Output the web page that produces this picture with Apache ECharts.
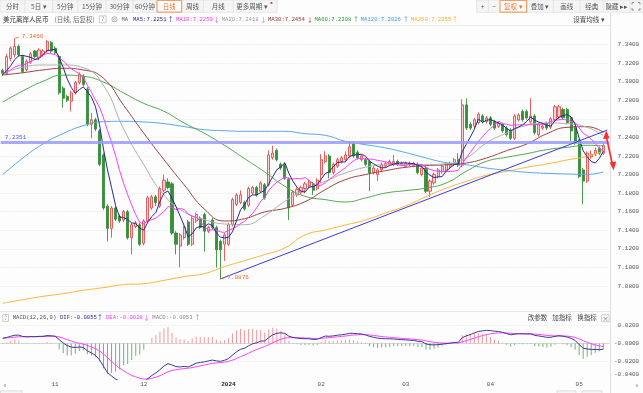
<!DOCTYPE html>
<html>
<head>
<meta charset="utf-8">
<title>美元离岸人民币 日线</title>
<script src="https://cdn.jsdelivr.net/npm/echarts@6/dist/echarts.min.js"></script>
<style>
html,body{margin:0;padding:0;background:#ffffff;overflow:hidden;}
#chart{width:643px;height:393px;}
</style>
</head>
<body>
<div id="chart"></div>
<script>
// ---------- categories: trading days ----------
const oct23 = [13,16,17,18,19,20,23,24,25,26,27,30,31];
const nov23 = [1,2,3,6,7,8,9,10,13,14,15,16,17,20,21,22,23,24,27,28,29,30];
const dec23 = [1,4,5,6,7,8,11,12,13,14,15,18,19,20,21,22,25,26,27,28,29];
const jan24 = [1,2,3,4,5,8,9,10,11,12,15,16,17,18,19,22,23,24,25,26,29,30,31];
const feb24 = [1,2,5,6,7,8,9,12,13,14,15,16,19,20,21,22,23,26,27,28,29];
const mar24 = [1,4,5,6,7,8,11,12,13,14,15,18,19,20,21,22,25,26,27,28,29];
const apr24 = [1,2,3,4,5,8,9,10,11,12,15,16,17,18,19,22,23,24,25,26,29,30];
const may24 = [1,2,3,6,7,8,9,10];

// ---------- daily candles [open, close, low, high] ----------
const ohlc = [
[7.312,7.309,7.306,7.314],[7.309,7.327,7.307,7.330],[7.325,7.336,7.322,7.338],[7.329,7.338,7.326,7.3466],
[7.338,7.329,7.327,7.340],[7.327,7.311,7.309,7.329],[7.313,7.322,7.311,7.324],[7.321,7.330,7.319,7.332],
[7.333,7.327,7.325,7.334],[7.326,7.334,7.323,7.336],[7.329,7.333,7.327,7.335],[7.333,7.343,7.331,7.345],
[7.342,7.333,7.331,7.344],[7.336,7.331,7.329,7.338],[7.327,7.288,7.286,7.329],[7.293,7.282,7.272,7.295],
[7.284,7.280,7.278,7.286],[7.279,7.288,7.268,7.290],[7.288,7.299,7.286,7.301],[7.299,7.308,7.297,7.310],
[7.306,7.297,7.295,7.308],[7.292,7.254,7.252,7.294],[7.254,7.259,7.239,7.266],[7.259,7.249,7.247,7.261],
[7.247,7.211,7.209,7.249],[7.221,7.164,7.162,7.223],[7.166,7.142,7.128,7.168],[7.142,7.164,7.132,7.166],
[7.164,7.152,7.150,7.166],[7.155,7.150,7.148,7.157],[7.151,7.160,7.149,7.162],[7.160,7.132,7.130,7.162],
[7.132,7.146,7.114,7.148],[7.144,7.148,7.142,7.150],[7.146,7.125,7.123,7.148],[7.126,7.150,7.124,7.152],
[7.150,7.175,7.148,7.177],[7.164,7.176,7.162,7.178],[7.176,7.170,7.166,7.178],[7.166,7.185,7.164,7.187],
[7.183,7.194,7.181,7.200],[7.192,7.186,7.184,7.196],[7.190,7.137,7.135,7.192],[7.137,7.125,7.114,7.139],
[7.123,7.135,7.100,7.137],[7.132,7.143,7.130,7.145],[7.149,7.125,7.123,7.151],[7.125,7.153,7.123,7.155],
[7.150,7.157,7.148,7.159],[7.153,7.143,7.141,7.155],[7.157,7.139,7.117,7.159],[7.139,7.143,7.137,7.145],
[7.151,7.143,7.141,7.153],[7.143,7.119,7.100,7.145],[7.128,7.119,7.0876,7.130],[7.125,7.135,7.107,7.137],
[7.125,7.146,7.123,7.148],[7.146,7.173,7.144,7.175],[7.168,7.178,7.166,7.180],[7.170,7.178,7.168,7.183],
[7.170,7.163,7.161,7.172],[7.167,7.185,7.165,7.187],[7.180,7.186,7.178,7.188],[7.186,7.178,7.176,7.188],
[7.182,7.191,7.180,7.193],[7.189,7.175,7.173,7.191],[7.189,7.221,7.187,7.226],[7.218,7.223,7.216,7.231],
[7.226,7.216,7.214,7.228],[7.211,7.207,7.205,7.213],[7.211,7.196,7.194,7.213],[7.195,7.164,7.151,7.197],
[7.167,7.181,7.165,7.183],[7.178,7.184,7.176,7.186],[7.181,7.186,7.179,7.188],[7.185,7.190,7.180,7.192],
[7.188,7.192,7.186,7.194],[7.190,7.183,7.178,7.192],[7.185,7.194,7.183,7.196],[7.200,7.216,7.191,7.222],
[7.214,7.220,7.212,7.225],[7.220,7.202,7.196,7.222],[7.202,7.211,7.200,7.213],[7.209,7.216,7.207,7.218],
[7.214,7.218,7.212,7.220],[7.216,7.221,7.214,7.225],[7.220,7.230,7.218,7.236],[7.234,7.220,7.218,7.236],
[7.224,7.218,7.216,7.226],[7.216,7.220,7.214,7.222],[7.216,7.211,7.209,7.218],[7.214,7.202,7.182,7.216],
[7.202,7.207,7.200,7.209],[7.200,7.205,7.193,7.207],[7.205,7.211,7.203,7.213],[7.209,7.212,7.207,7.214],
[7.211,7.214,7.209,7.216],[7.211,7.214,7.209,7.221],[7.214,7.211,7.209,7.216],[7.211,7.212,7.209,7.214],
[7.209,7.212,7.207,7.214],[7.212,7.211,7.209,7.214],[7.210,7.212,7.208,7.214],[7.211,7.202,7.200,7.213],
[7.200,7.207,7.198,7.209],[7.207,7.182,7.180,7.209],[7.182,7.193,7.176,7.195],[7.191,7.200,7.189,7.202],
[7.198,7.205,7.196,7.207],[7.203,7.209,7.201,7.211],[7.205,7.211,7.203,7.213],[7.209,7.212,7.207,7.214],
[7.211,7.216,7.209,7.218],[7.216,7.210,7.208,7.223],[7.210,7.275,7.208,7.281],[7.275,7.250,7.248,7.282],
[7.254,7.250,7.248,7.256],[7.252,7.259,7.250,7.261],[7.256,7.265,7.254,7.267],[7.263,7.257,7.255,7.265],
[7.257,7.261,7.255,7.263],[7.261,7.254,7.252,7.263],[7.257,7.250,7.248,7.259],[7.252,7.255,7.250,7.257],
[7.254,7.247,7.245,7.256],[7.250,7.243,7.241,7.252],[7.248,7.239,7.237,7.250],[7.239,7.263,7.237,7.265],
[7.259,7.264,7.257,7.266],[7.268,7.259,7.257,7.270],[7.268,7.261,7.259,7.270],[7.257,7.263,7.255,7.282],
[7.263,7.245,7.243,7.265],[7.243,7.254,7.241,7.256],[7.250,7.252,7.248,7.254],[7.255,7.250,7.248,7.257],
[7.251,7.260,7.249,7.262],[7.259,7.273,7.257,7.275],[7.262,7.273,7.260,7.275],[7.270,7.261,7.259,7.272],
[7.270,7.256,7.254,7.272],[7.261,7.247,7.236,7.263],[7.250,7.234,7.232,7.252],[7.236,7.198,7.196,7.238],
[7.205,7.193,7.168,7.207],[7.193,7.223,7.191,7.225],[7.219,7.222,7.217,7.226],[7.222,7.226,7.220,7.229],
[7.228,7.223,7.221,7.230],[7.223,7.231,7.221,7.233]
];
// closes before the first visible day (for MA5 / MA10 warm-up)
const prevCloses = [7.314,7.312,7.309,7.310,7.3075,7.306,7.308,7.305,7.3096];

// ---------- longer moving averages ----------
const maSampleIdx = [0,5,10,15,20,25,30,35,40,45,50,55,60,65,70,75,80,85,90,95,100,105,110,115,120,125,130,135,140,145,149];
const ma20Vals  = [7.3090,7.3155,7.3179,7.3179,7.3150,7.2960,7.2490,7.2106,7.1780,7.1597,7.1515,7.1468,7.1460,7.1557,7.1712,7.1838,7.1927,7.2017,7.2078,7.2106,7.2106,7.2106,7.2117,7.2178,7.2340,7.2447,7.2530,7.2555,7.2548,7.2508,7.2418];
const ma30Vals  = [7.3072,7.3096,7.3126,7.3144,7.3126,7.3036,7.2745,7.2445,7.2160,7.1890,7.1630,7.1500,7.1525,7.1597,7.1636,7.1708,7.1837,7.1945,7.2000,7.2042,7.2078,7.2096,7.2106,7.2124,7.2178,7.2257,7.2329,7.2440,7.2508,7.2515,7.2454];
const ma60Vals  = [7.2780,7.2900,7.3004,7.3070,7.3057,7.2996,7.2878,7.2766,7.2681,7.2555,7.2444,7.2315,7.2171,7.2028,7.1873,7.1766,7.1730,7.1705,7.1748,7.1801,7.1827,7.1855,7.1909,7.2035,7.2142,7.2186,7.2225,7.2268,7.2293,7.2315,7.2308];
const ma120Vals = [7.1999,7.2178,7.2330,7.2441,7.2526,7.2569,7.2573,7.2566,7.2548,7.2516,7.2483,7.2472,7.2465,7.2465,7.2465,7.2440,7.2422,7.2358,7.2322,7.2286,7.2236,7.2178,7.2128,7.2106,7.2070,7.2045,7.2024,7.2013,7.2006,7.2002,7.2027];
const ma250Vals = [7.0614,7.0653,7.0689,7.0718,7.0754,7.0783,7.0815,7.0825,7.0861,7.0901,7.0933,7.1008,7.1073,7.1138,7.1210,7.1350,7.1403,7.1457,7.1511,7.1586,7.1662,7.1762,7.1852,7.1927,7.1992,7.2035,7.2078,7.2114,7.2157,7.2196,7.2254];

// ---------- annotations ----------
const highPoint = {idx: 3, value: 7.3466};
const lowPoint = {idx: 54, value: 7.0876};
const hLineValue = 7.2351;
const trendEnd = {idx: 150, value: 7.2479};
// MACD warm-up state before first visible day
const macdSeed = {ema12: 7.3100, ema26: 7.3035, dea: 0.0062};

// ---------- build ----------
const dates = [];
[['2023-10',oct23],['2023-11',nov23],['2023-12',dec23],['2024-01',jan24],['2024-02',feb24],['2024-03',mar24],['2024-04',apr24],['2024-05',may24]]
  .forEach(([ym, days]) => days.forEach(d => dates.push(ym + '-' + String(d).padStart(2,'0'))));

const closes = ohlc.map(r => r[1]);
const allCloses = prevCloses.concat(closes);
function maOf(n) {
  return closes.map((c, i) => {
    const end = i + prevCloses.length;
    let s = 0;
    for (let k = end - n + 1; k <= end; k++) s += allCloses[k];
    return +(s / n).toFixed(5);
  });
}
const ma5 = maOf(5), ma10 = maOf(10);
const pairs = vals => maSampleIdx.map((ix, k) => [ix, vals[k]]);

const dif = [], dea = [], hist = [];
(function(){
  let e12 = macdSeed.ema12, e26 = macdSeed.ema26, d = macdSeed.dea;
  closes.forEach(c => {
    e12 = e12 * 11 / 13 + c * 2 / 13;
    e26 = e26 * 25 / 27 + c * 2 / 27;
    const df = e12 - e26;
    d = d * 0.8 + df * 0.2;
    dif.push(+df.toFixed(5)); dea.push(+d.toFixed(5)); hist.push(+(2 * (df - d)).toFixed(5));
  });
})();

const CJK = '"Noto Sans CJK SC", "Noto Sans", sans-serif';
const MONO = '"Liberation Mono", "DejaVu Sans Mono", monospace';

function txt(x, y, s, color, font, align) {
  return {type:'text', x:x, y:y, silent:true, z:100,
    style:{text:s, fill:color, font:font, align:align || 'left', verticalAlign:'middle'}};
}
function rect(x, y, w, h, fill, stroke, lw) {
  return {type:'rect', silent:true, z:99, shape:{x:x, y:y, width:w, height:h},
    style:{fill:fill, stroke:stroke || null, lineWidth:lw || 0.6}};
}
function line(x1, y1, x2, y2, color, lw) {
  return {type:'line', silent:true, z:99, shape:{x1:x1, y1:y1, x2:x2, y2:y2},
    style:{stroke:color, lineWidth:lw || 0.6}};
}

const F_CN = '6.5px ' + CJK;
const F_MO = '5.6px ' + MONO;
const graphics = [];
// top toolbar (left)
graphics.push(rect(0, 0, 277, 12.3, '#f5f5f5', '#d8d8d8', 0.6));
[25, 52.7, 78, 106, 133, 203.3, 233.3].forEach(x => graphics.push(line(x, 0, x, 12.3, '#d8d8d8')));
graphics.push(rect(157, 0.3, 24.7, 11.8, '#ffffff', '#f08a45', 1));
const leftBtns = [[12.5,'分时'],[38.8,'5日 ▾'],[65.3,'5分钟'],[92,'15分钟'],[119.5,'30分钟'],[145,'60分钟'],[169.3,'日线'],[192.5,'周线'],[218.3,'月线'],[252,'更多周期 ▾']];
leftBtns.forEach(([x, s]) => graphics.push(txt(x, 6.4, s, s === '日线' ? '#f0702a' : '#555', F_CN, 'center')));
graphics.push({type:'circle', silent:true, z:100, shape:{cx:271.5, cy:3, r:1.1}, style:{fill:'#ff2020'}});
// top toolbar (right)
graphics.push(rect(476.7, 0, 166.3, 12.3, '#f5f5f5', '#d8d8d8', 0.6));
[488.3, 553.3, 580, 603.3, 630].forEach(x => graphics.push(line(x, 0, x, 12.3, '#d8d8d8')));
graphics.push(rect(500, 0.3, 26.7, 11.8, '#ffffff', '#f08a45', 1));
const rightBtns = [[482.5,'+'],[494,'−'],[513.3,'复权 ▾'],[540,'叠加 ▾'],[566.7,'画线'],[591.7,'经典'],[616.7,'隐藏 ▸▸']];
rightBtns.forEach(([x, s]) => graphics.push(txt(x, 6.4, s, s.indexOf('复权') === 0 ? '#f0702a' : '#555', F_CN, 'center')));
[[[632,4.5],[632,2.5],[634,2.5]],[[638,2.5],[640,2.5],[640,4.5]],[[632,8],[632,10],[634,10]],[[638,10],[640,10],[640,8]]]
  .forEach(p => graphics.push({type:'polyline', silent:true, z:100, shape:{points:p}, style:{stroke:'#777', lineWidth:0.8, fill:null}}));
// frame lines
graphics.push(line(610.5, 12.3, 610.5, 393, '#d8d8d8', 0.8));
graphics.push(line(0, 25.5, 610.5, 25.5, '#e6e6e6', 0.8));
graphics.push(line(0, 311.5, 610.5, 311.5, '#e2e2e2', 0.8));
// header row
graphics.push(txt(3, 19.3, '美元离岸人民币', '#333', F_CN));
graphics.push(txt(54.5, 19.3, '(日线, 后复权)', '#666', F_CN));
graphics.push(rect(99.3, 15.8, 6.8, 7, '#fff', '#aaa', 0.6));
graphics.push(txt(102.7, 19.4, '?', '#888', '5.5px ' + CJK, 'center'));
graphics.push({type:'circle', silent:true, z:100, shape:{cx:114.5, cy:19.3, r:2.6}, style:{fill:null, stroke:'#999', lineWidth:0.8}});
graphics.push({type:'circle', silent:true, z:100, shape:{cx:114.5, cy:19.3, r:0.9}, style:{fill:null, stroke:'#999', lineWidth:0.6}});
graphics.push(txt(121.5, 19.3, 'MA', '#666', F_MO));
const maHeader = [
  [133, 'MA5:7.2251', '#2a2a90', 170.7, '↑'],
  [176, 'MA10:7.2259', '#f03cf0', 216.7, '↓'],
  [221.7, 'MA20:7.2418', '#999999', 263.3, '↓'],
  [268, 'MA30:7.2454', '#a03535', 310, '↓'],
  [314.5, 'MA60:7.2308', '#2f9a2f', 356, '↑'],
  [360.7, 'MA120:7.2026', '#3d9be6', 406, '↑'],
  [411, 'MA250:7.2255', '#ffaa2e', 455, '↑']
];
maHeader.forEach(([x, s, c, ax, a]) => {
  graphics.push(txt(x, 19.3, s, c, F_MO));
  graphics.push(txt(ax, 19.3, a, c, F_CN, 'center'));
});
graphics.push(txt(573.3, 19.3, '设置均线 ▾', '#444', F_CN));
// MACD header
graphics.push(rect(2.7, 314.6, 5.8, 6.8, '#fff', '#aaa', 0.6));
graphics.push(txt(5.6, 318.1, '?', '#888', '5.5px ' + CJK, 'center'));
graphics.push(txt(12.7, 318, 'MACD(12,26,9)', '#555', F_MO));
const macdHeader = [
  [60, 'DIF:-0.0055', '#2a2a90', 100, '↑'],
  [106, 'DEA:-0.0028', '#f03cf0', 146.7, '↓'],
  [152.3, 'MACD:-0.0053', '#888888', 197.3, '↑']
];
macdHeader.forEach(([x, s, c, ax, a]) => {
  graphics.push(txt(x, 318, s, c, F_MO));
  graphics.push(txt(ax, 318, a, c, F_CN, 'center'));
});
graphics.push(txt(527.7, 318, '改参数', '#444', F_CN));
graphics.push(txt(552.3, 318, '加指标', '#444', F_CN));
graphics.push(txt(577.3, 318, '换指标', '#444', F_CN));
graphics.push(rect(601.7, 314.7, 7.4, 7, '#fff', '#aaa', 0.6));
graphics.push(txt(605.4, 318.1, '×', '#777', '6.5px ' + CJK, 'center'));
// bottom nav
graphics.push(txt(5, 384, '«', '#888', '7px ' + CJK, 'center'));
graphics.push(txt(637, 384, '»', '#888', '7px ' + CJK, 'center'));
graphics.push(rect(0.5, 390.8, 21.5, 4, '#f5f5f5', '#cfcfcf', 0.6));
graphics.push(rect(557, 390.8, 19, 4, '#f5f5f5', '#cfcfcf', 0.6));
graphics.push(rect(582, 390.8, 20, 4, '#f5f5f5', '#cfcfcf', 0.6));
// drawn red arrow (annotation)
graphics.push(line(606.6, 138, 612.4, 164, '#ff2a2a', 1.6));
graphics.push({type:'polygon', silent:true, z:100, shape:{points:[[606.2,130.5],[603.1,139],[609.6,138.2]]}, style:{fill:'#ff2a2a'}});
graphics.push({type:'polygon', silent:true, z:100, shape:{points:[[613.6,170.5],[609.7,162.6],[616.2,161.6]]}, style:{fill:'#ff2a2a'}});

const BW = 4.031, NCAT = dates.length;
const GL = 0.7, GW = NCAT * BW;

const lineSeries = (name, data, color, smooth) => ({
  name, type:'line', xAxisIndex:0, yAxisIndex:0, data, symbol:'none', smooth: smooth ? 0.5 : false,
  lineStyle:{color, width:1}, silent:true, z:3
});

const option = {
  animation:false,
  backgroundColor:'#fdfdfd',
  textStyle:{fontFamily:CJK},
  grid:[
    {left:GL, width:GW, top:25.9, height:278.7},
    {left:GL, width:GW, top:307.8, height:71.6}
  ],
  xAxis:[
    {type:'category', gridIndex:0, data:dates, boundaryGap:true, show:false},
    {type:'category', gridIndex:1, data:dates, boundaryGap:true,
      axisLine:{lineStyle:{color:'#cfcfcf', width:0.8}}, axisTick:{show:false},
      axisLabel:{
        interval:(i, v) => i > 0 && v.slice(0,7) !== dates[i-1].slice(0,7),
        formatter:v => v.slice(5,7) === '01' ? '{y|' + v.slice(0,4) + '}' : v.slice(5,7),
        fontFamily:MONO, fontSize:6, color:'#555', margin:2,
        rich:{y:{fontFamily:MONO, fontSize:6, fontWeight:'bold', color:'#222'}}
      }}
  ],
  yAxis:[
    {type:'value', gridIndex:0, position:'right', min:7.06, max:7.36, interval:0.02,
      axisLine:{show:false}, axisTick:{show:false},
      splitLine:{show:true, showMinLine:false, showMaxLine:false, lineStyle:{color:'#dcdcdc', type:[1,2], width:0.8}},
      axisLabel:{showMinLabel:false, showMaxLabel:false, formatter:v => v.toFixed(4),
        fontFamily:MONO, fontSize:6, color:'#555', align:'right', margin:29.8}},
    {type:'value', gridIndex:1, position:'right', min:-0.04, max:0.04, interval:0.02,
      axisLine:{show:false}, axisTick:{show:false},
      splitLine:{show:true, showMinLine:false, showMaxLine:false, lineStyle:{color:'#dcdcdc', type:[1,2], width:0.8}},
      axisLabel:{showMaxLabel:false,
        formatter:v => Math.abs(v) < 1e-9 ? '-0.0000' : (Math.abs(v + 0.04) < 1e-9 ? '{b|-0.0400}' : v.toFixed(4)),
        fontFamily:MONO, fontSize:6, color:'#555', align:'right', margin:29.8,
        rich:{b:{fontFamily:MONO, fontSize:6, color:'#555', padding:[0,0,10,0]}}}}
  ],
  graphic:graphics,
  series:[
    {name:'K', type:'candlestick', xAxisIndex:0, yAxisIndex:0, data:ohlc, barWidth:2.6, z:2,
      itemStyle:{color:'#fbd2d2', color0:'#36913a', borderColor:'#e64e4e', borderColor0:'#36913a', borderWidth:0.9},
      markLine:{silent:true, symbol:['none','none'], animation:false, precision:4,
        data:[
          {yAxis:hLineValue, lineStyle:{color:'#9a9aff', width:3, type:'solid', opacity:0.85},
            label:{show:true, position:'insideStartTop', formatter:hLineValue.toFixed(4), color:'#3c3cd8',
              fontFamily:MONO, fontSize:6, distance:[4,2]}},
          [{coord:[lowPoint.idx, lowPoint.value], lineStyle:{color:'#3b3bd6', width:1, type:'solid'}, label:{show:false}},
           {coord:[trendEnd.idx, trendEnd.value]}],
          [{coord:[highPoint.idx, highPoint.value], lineStyle:{color:'#f06a2a', width:0.8, type:'solid'},
             label:{show:true, position:'end', formatter:highPoint.value.toFixed(4), color:'#f06a2a', fontFamily:MONO, fontSize:6, distance:3}},
           {coord:[highPoint.idx + 1, highPoint.value + 0.0012]}],
          [{coord:[lowPoint.idx, lowPoint.value], lineStyle:{color:'#f06a2a', width:0.8, type:'solid'},
             label:{show:true, position:'end', formatter:lowPoint.value.toFixed(4), color:'#f06a2a', fontFamily:MONO, fontSize:6, distance:3}},
           {coord:[lowPoint.idx + 1, lowPoint.value + 0.0012]}]
        ]}},
    lineSeries('MA250', pairs(ma250Vals), '#ffb43c', true),
    lineSeries('MA120', pairs(ma120Vals), '#55a8ea', true),
    lineSeries('MA60', pairs(ma60Vals), '#52a852', true),
    lineSeries('MA30', pairs(ma30Vals), '#9c4242', true),
    lineSeries('MA20', pairs(ma20Vals), '#b0b0b0', true),
    lineSeries('MA10', ma10, '#ff3cff', false),
    lineSeries('MA5', ma5, '#28288c', false),
    {name:'MACD', type:'bar', xAxisIndex:1, yAxisIndex:1, data:hist, barWidth:1, silent:true,
      itemStyle:{color:p => p.value >= 0 ? '#f29a9a' : '#72b472'}},
    {name:'DEA', type:'line', xAxisIndex:1, yAxisIndex:1, data:dea, symbol:'none', silent:true,
      lineStyle:{color:'#ff44ff', width:1}},
    {name:'DIF', type:'line', xAxisIndex:1, yAxisIndex:1, data:dif, symbol:'none', silent:true,
      lineStyle:{color:'#3a3a9a', width:1}}
  ]
};
const chart = echarts.init(document.getElementById('chart'));
chart.setOption(option);
</script>
</body>
</html>
